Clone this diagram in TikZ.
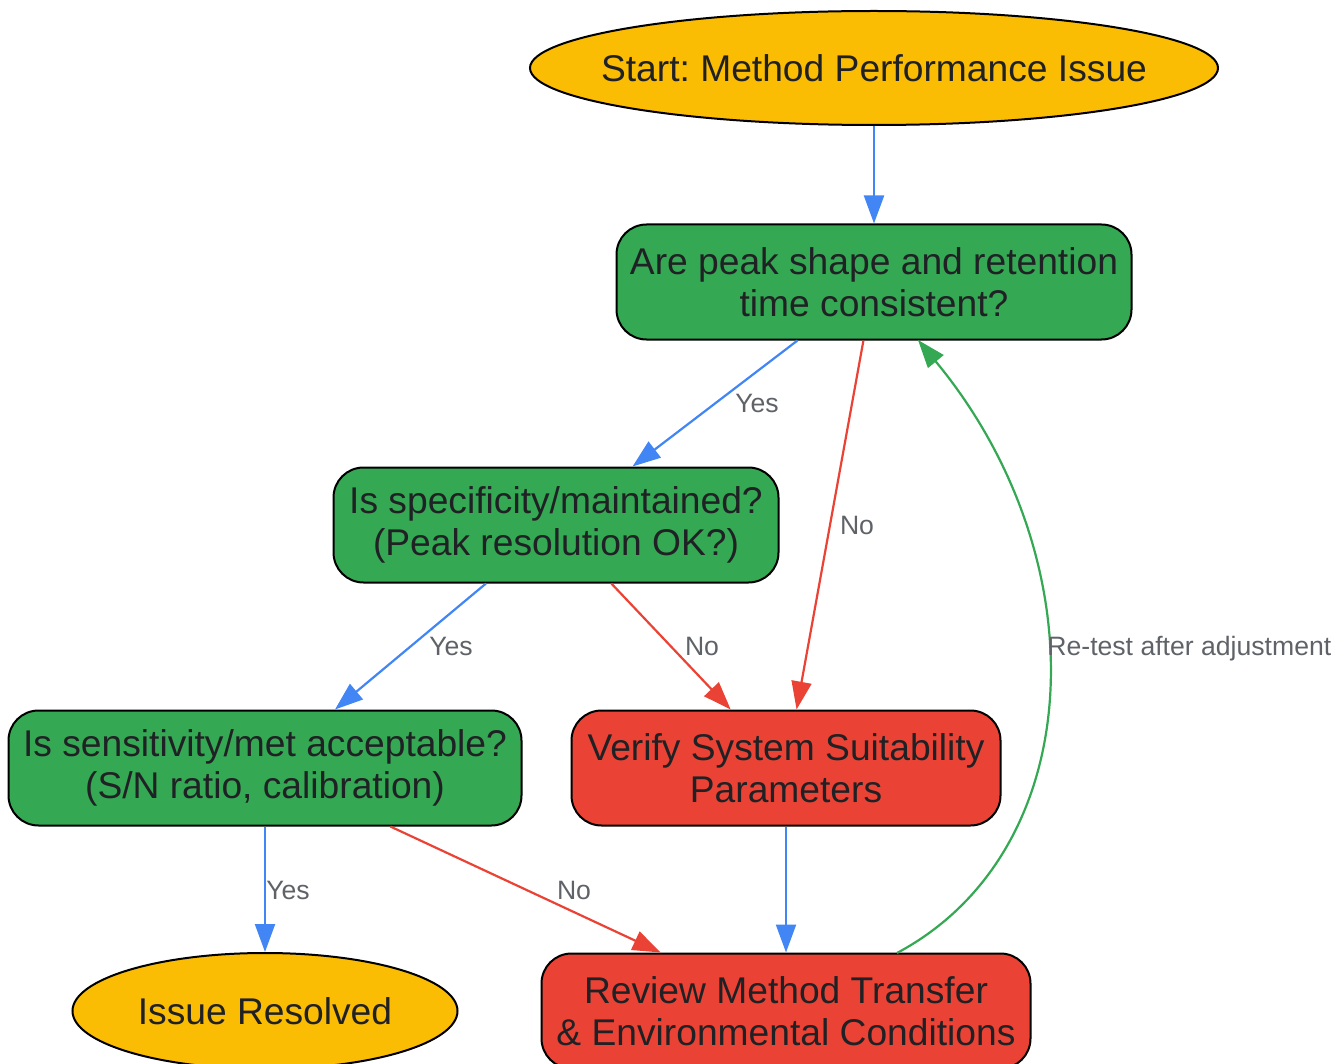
\documentclass[tikz,border=0pt]{standalone}
\usepackage{fontspec}
\setmainfont{Liberation Sans}
\usetikzlibrary{arrows.meta,shapes.geometric}
\definecolor{gyellow}{HTML}{FBBC04}
\definecolor{ggreen}{HTML}{34A853}
\definecolor{gred}{HTML}{EA4335}
\definecolor{gblue}{HTML}{4285F4}
\definecolor{gtext}{HTML}{202124}
\definecolor{glabel}{HTML}{5F6368}
\tikzset{
  base/.style={draw=black, line width=1pt, text=gtext, align=center,
    font=\fontsize{18.6}{20.8}\selectfont, inner sep=0pt},
  term/.style={base, ellipse, fill=gyellow},
  quest/.style={base, rectangle, rounded corners=15pt, fill=ggreen, minimum height=57.5pt},
  act/.style={base, rectangle, rounded corners=15pt, fill=gred, minimum height=57.5pt},
  conn/.style={line width=1.1pt, -{Triangle[length=14pt,width=10pt]}},
  blueconn/.style={conn, draw=gblue, fill=gblue},
  redconn/.style={conn, draw=gred, fill=gred},
  greenconn/.style={conn, draw=ggreen, fill=ggreen},
  elabel/.style={text=glabel, font=\fontsize{13.3}{15}\selectfont, inner sep=0pt}
}
\frenchspacing
\begin{document}
\frenchspacing
\begin{tikzpicture}[x=0.5pt,y=-0.5pt]
\useasboundingbox (0,0) rectangle (1344,1064);
\clip (0,0) rectangle (1344,1064);
\node[term, minimum width=344pt, minimum height=57pt] (start) at (874,68) {\makebox[120pt]{Start: Method Performance Issue}};
\node[quest, minimum width=257.5pt] (q1) at (874,282) {Are peak shape and retention\\time consistent?};
\node[quest, minimum width=222.5pt] (q2) at (556,525) {Is specificity/maintained?\\(Peak resolution OK?)};
\node[quest, minimum width=256.5pt] (q3) at (265,768) {Is sensitivity/met acceptable?\\(S/N ratio, calibration)};
\node[act, minimum width=214.5pt] (verify) at (786,768) {Verify System Suitability\\Parameters};
\node[act, minimum width=244.5pt] (review) at (786,1011) {Review Method Transfer\\\& Environmental Conditions};
\node[term, minimum width=192.5pt, minimum height=58pt] (resolved) at (265,1011) {\makebox[80pt]{Issue Resolved}};

\draw[blueconn] (start) -- (q1);
\draw[blueconn] (q1) -- (q2);
\node[elabel] (l1) at (757,403) {Yes};
\draw[redconn] (q1) -- (verify);
\node[elabel] (l2) at (857,525) {No};
\draw[blueconn] (q2) -- (q3);
\node[elabel] (l3) at (451,646) {Yes};
\draw[redconn] (q2) -- (verify);
\node[elabel] (l4) at (702,646) {No};
\draw[blueconn] (q3) -- (resolved);
\node[elabel] (l5) at (288,890) {Yes};
\draw[redconn] (q3) -- (review);
\node[elabel] (l6) at (574,890) {No};
\draw[blueconn] (verify) -- (review);
\coordinate (rs) at (897,953);
\coordinate (qe) at (918,340);
\draw[greenconn, fill=none] (rs) .. controls (1090,850) and (1100,560) .. (qe);
\node[elabel, anchor=west] (l7) at (1047,649) {Re-test after adjustment};
\end{tikzpicture}
\end{document}
